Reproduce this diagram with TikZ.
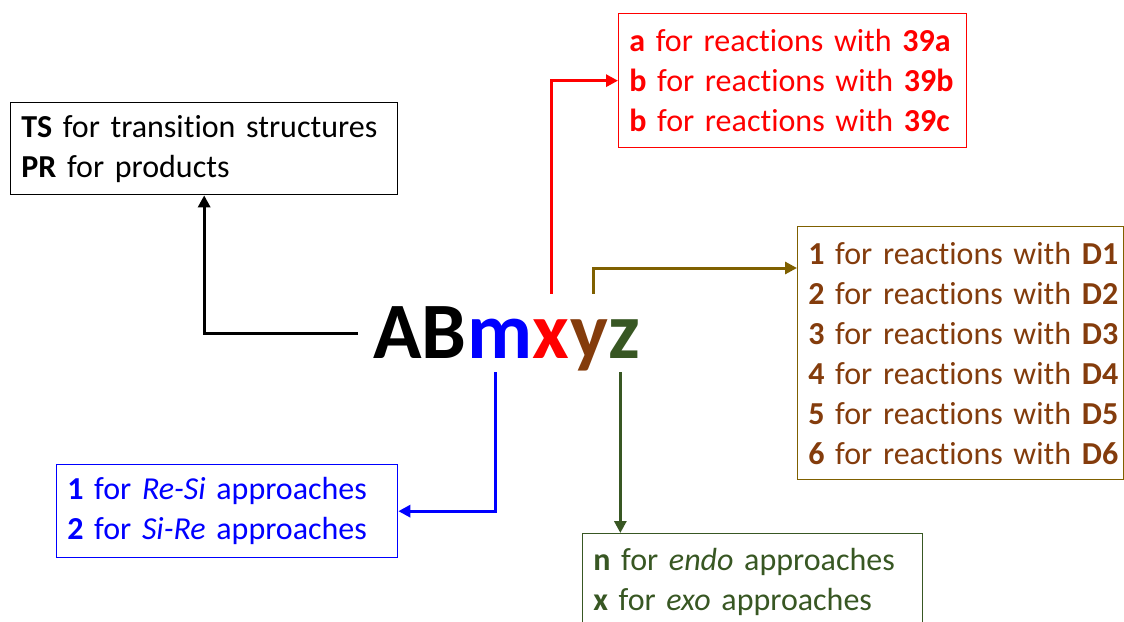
\documentclass[tikz,border=0pt]{standalone}
\usepackage{fontspec}
\setmainfont{Carlito}[Ligatures=NoCommon]
\usetikzlibrary{arrows.meta,positioning}
\definecolor{rxred}{RGB}{255,0,0}
\definecolor{rxblue}{RGB}{0,0,255}
\definecolor{rxbrown}{RGB}{132,60,12}
\definecolor{rxolive}{RGB}{127,96,0}
\definecolor{rxgreen}{RGB}{56,87,35}
\begin{document}
\begin{tikzpicture}[x=0.75pt, y=-0.75pt, font=\fontsize{24}{30}\selectfont]
\tikzset{
  legend/.style={draw, line width=1pt, anchor=north west, align=left, inner xsep=8pt, inner ysep=0pt},
  letter/.style={inner sep=0pt, anchor=base west, font=\fontsize{60}{66}\selectfont\bfseries, text height=48pt, text depth=10.5pt},
  link/.style={line width=2.25pt, -{Triangle[length=9pt,width=9pt]}}
}
\clip (0,0) rectangle (1124,621);
% the code name, one node per letter group
\node[letter] (AB) at (373,358) {AB};
\node[letter, text=rxblue] (m) at (AB.base east) {m};
\node[letter, text=rxred] (x) at (m.base east) {x};
\node[letter, text=rxbrown] (y) at (x.base east) {y};
\node[letter, text=rxgreen] (z) at (y.base east) {z};

% legends
\node[legend, text width=274.25pt, minimum height=69pt] (ts) at (10,102)
  {\mbox{\textbf{TS} for transition structures}\\\textbf{PR} for products};
\node[legend, draw=rxred, text=rxred, text width=245pt, minimum height=100.5pt] (ab) at (618,13)
  {\mbox{\textbf{a} for reactions with \textbf{39a}}\\\mbox{\textbf{b} for reactions with \textbf{39b}}\\\mbox{\textbf{b} for reactions with \textbf{39c}}};
\node[legend, draw=rxolive, text=rxbrown, text width=228.5pt, minimum height=189.75pt] (dd) at (797,226)
  {\mbox{\textbf{1} for reactions with \textbf{D1}}\\\mbox{\textbf{2} for reactions with \textbf{D2}}\\\mbox{\textbf{3} for reactions with \textbf{D3}}\\
   \mbox{\textbf{4} for reactions with \textbf{D4}}\\\mbox{\textbf{5} for reactions with \textbf{D5}}\\\mbox{\textbf{6} for reactions with \textbf{D6}}};
\node[legend, draw=rxblue, text=rxblue, text width=239.75pt, minimum height=69.75pt] (re) at (56,464)
  {\textbf{1} for \textit{Re-Si} approaches\\\textbf{2} for \textit{Si-Re} approaches};
\node[legend, draw=rxgreen, text=rxgreen, text width=239pt, minimum height=72pt] (nx) at (582,533)
  {\textbf{n} for \textit{endo} approaches\\\textbf{x} for \textit{exo} approaches};

% connectors
\draw[link] ([xshift=-11.25pt]AB.west) -| (ts.south);
\draw[link, rxred] (x.north) |- (ab.west);
\draw[link, rxolive] ([xshift=3.75pt]y.north) |- ([yshift=-31.5pt]dd.north west);
\draw[link, rxblue] ([xshift=-3pt]m.south) |- (re.east);
\draw[link, rxgreen] ([xshift=-3pt]z.south) -- ([xshift=-3pt]z.south |- nx.north);
\end{tikzpicture}
\end{document}
